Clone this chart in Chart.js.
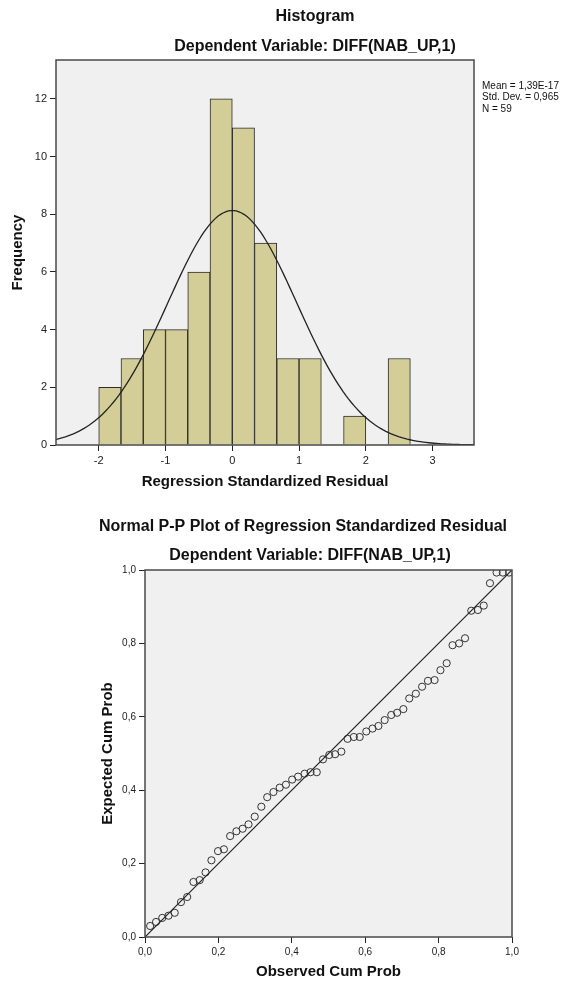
<!DOCTYPE html>
<html>
<head>
<meta charset="utf-8">
<script src="https://cdn.jsdelivr.net/npm/chart.js@4"></script>
<style>
  html, body { margin: 0; padding: 0; background: #fff; }
  #wrap { position: relative; width: 567px; height: 984px; }
  canvas { position: absolute; left: 0; }
  #hist { top: 0; }
  #pp { top: 495px; }
</style>
</head>
<body>
<div id="wrap">
  <canvas id="hist" width="567" height="495"></canvas>
  <canvas id="pp" width="567" height="489"></canvas>
</div>
<script>
// histogram bins (left edges, width 1/3) and counts
const binStarts = [-2, -1.6667, -1.3333, -1, -0.6667, -0.3333, 0, 0.3333, 0.6667, 1, 1.3333, 1.6667, 2, 2.3333];
const binCounts = [2, 3, 4, 4, 6, 12, 11, 7, 3, 3, 0, 1, 0, 3];
const binWidth = 1 / 3;
const histXTicks = [-2, -1, 0, 1, 2, 3];
const histYTicks = [0, 2, 4, 6, 8, 10, 12];

// stats shown beside the histogram
const meanVal = 1.39e-17;
const sdVal = 0.965;
const nVal = 59;
const statLines = ['Mean = 1,39E-17', 'Std. Dev. = 0,965', 'N = 59'];

// P-P plot points
const obsCum = [0.014, 0.030, 0.047, 0.064, 0.081, 0.098, 0.115, 0.132, 0.149, 0.165,
                0.181, 0.199, 0.215, 0.232, 0.249, 0.266, 0.282, 0.299, 0.317, 0.333,
                0.350, 0.367, 0.384, 0.401, 0.417, 0.435, 0.451, 0.468, 0.485, 0.502,
                0.518, 0.535, 0.552, 0.569, 0.585, 0.603, 0.620, 0.636, 0.653, 0.671,
                0.687, 0.704, 0.720, 0.738, 0.755, 0.771, 0.789, 0.805, 0.822, 0.838,
                0.856, 0.872, 0.889, 0.907, 0.923, 0.940, 0.958, 0.975, 0.992];
const expCum = [0.030, 0.041, 0.052, 0.058, 0.066, 0.095, 0.109, 0.150, 0.155, 0.176,
                0.209, 0.234, 0.239, 0.275, 0.288, 0.295, 0.307, 0.328, 0.355, 0.381,
                0.395, 0.407, 0.415, 0.429, 0.437, 0.445, 0.449, 0.449, 0.484, 0.496,
                0.498, 0.505, 0.540, 0.545, 0.545, 0.560, 0.568, 0.575, 0.591, 0.605,
                0.611, 0.621, 0.650, 0.663, 0.682, 0.698, 0.700, 0.727, 0.746, 0.795,
                0.800, 0.814, 0.889, 0.891, 0.903, 0.964, 0.993, 0.993, 0.993];
const ppTicks = [0, 0.2, 0.4, 0.6, 0.8, 1.0];

Chart.defaults.font.family = '"Liberation Sans", Arial, sans-serif';
Chart.defaults.color = '#222';
Chart.defaults.animation = false;

const frameColor = '#4a4a4a';
const plotBg = '#F0F0F0';

// background + frame around the plot area, plus free text
function panelPlugin(titles, extra) {
  return {
    id: 'panel',
    beforeDraw(chart) {
      const { ctx, chartArea: a } = chart;
      ctx.save();
      ctx.fillStyle = plotBg;
      ctx.fillRect(a.left, a.top, a.right - a.left, a.bottom - a.top);
      ctx.restore();
    },
    afterDraw(chart) {
      const { ctx, chartArea: a } = chart;
      ctx.save();
      ctx.strokeStyle = frameColor;
      ctx.lineWidth = 1.5;
      ctx.strokeRect(a.left, a.top, a.right - a.left, a.bottom - a.top);
      ctx.fillStyle = '#111';
      ctx.textAlign = 'center';
      ctx.textBaseline = 'middle';
      ctx.font = 'bold 16px "Liberation Sans", Arial, sans-serif';
      titles.forEach(t => ctx.fillText(t.text, t.x, t.y));
      if (extra) extra(ctx, a);
      ctx.restore();
    }
  };
}

function tickOpts(fmt, size) {
  return {
    autoSkip: false,
    font: { size: size },
    color: '#222',
    padding: 3,
    maxRotation: 0,
    callback: v => fmt(v)
  };
}

const tickGrid = { offset: false, drawOnChartArea: false, drawTicks: true, tickLength: 6, color: '#222', lineWidth: 1 };

// ---------- histogram ----------
const histData = binStarts.map((s, i) => ({ x: s + binWidth / 2, y: binCounts[i] }));
const curve = [];
for (let x = -2.7; x <= 3.7; x += 0.04) {
  const z = (x - meanVal) / sdVal;
  curve.push({ x: x, y: nVal * binWidth * Math.exp(-z * z / 2) / (sdVal * Math.sqrt(2 * Math.PI)) });
}

new Chart(document.getElementById('hist'), {
  type: 'bar',
  data: {
    datasets: [
      {
        type: 'line',
        data: curve,
        borderColor: '#222',
        borderWidth: 1.3,
        pointRadius: 0,
        tension: 0,
        fill: false
      },
      {
        type: 'bar',
        data: histData,
        backgroundColor: '#D3CE97',
        borderColor: '#2b2b2b',
        borderWidth: binCounts.map(c => (c > 0 ? 1 : 0)),
        borderSkipped: 'start',
        barPercentage: 1,
        categoryPercentage: 1
      }
    ]
  },
  options: {
    responsive: false,
    layout: { padding: { top: 60, right: 93, left: 0, bottom: 0 } },
    plugins: { legend: { display: false }, tooltip: { enabled: false } },
    scales: {
      x: {
        type: 'linear',
        offset: false,
        min: -2.64,
        max: 3.62,
        afterFit: s => { s.height = 50; },
        afterBuildTicks: s => { s.ticks = histXTicks.map(v => ({ value: v })); },
        ticks: tickOpts(v => String(v), 11),
        grid: tickGrid,
        border: { display: false },
        title: {
          display: true,
          text: 'Regression Standardized Residual',
          font: { size: 15, weight: 'bold' },
          color: '#111',
          padding: { top: 4, bottom: 4 }
        }
      },
      y: {
        min: 0,
        max: 13.35,
        afterFit: s => { s.width = 56; },
        afterBuildTicks: s => { s.ticks = histYTicks.map(v => ({ value: v })); },
        ticks: tickOpts(v => String(v), 11),
        grid: tickGrid,
        border: { display: false },
        title: {
          display: true,
          text: 'Frequency',
          font: { size: 15, weight: 'bold' },
          color: '#111',
          padding: { top: 9, bottom: 4 }
        }
      }
    }
  },
  plugins: [panelPlugin(
    [{ text: 'Histogram', x: 315, y: 17 }, { text: 'Dependent Variable: DIFF(NAB_UP,1)', x: 315, y: 47 }],
    (ctx, a) => {
      ctx.textAlign = 'left';
      ctx.font = '10px "Liberation Sans", Arial, sans-serif';
      statLines.forEach((t, i) => ctx.fillText(t, a.right + 8, 86 + i * 11.5));
    }
  )]
});

// ---------- P-P plot ----------
const ppPoints = obsCum.map((x, i) => ({ x: x, y: expCum[i] }));
const fmtComma = v => v.toFixed(1).replace('.', ',');

new Chart(document.getElementById('pp'), {
  type: 'scatter',
  data: {
    datasets: [
      {
        data: [{ x: 0, y: 0 }, { x: 1, y: 1 }],
        showLine: true,
        borderColor: '#222',
        borderWidth: 1.2,
        pointRadius: 0
      },
      {
        data: ppPoints,
        pointRadius: 3.6,
        pointBorderWidth: 1,
        pointBorderColor: '#333',
        pointBackgroundColor: 'rgba(0,0,0,0)'
      }
    ]
  },
  options: {
    responsive: false,
    layout: { padding: { top: 75, right: 55, left: 90, bottom: 0 } },
    plugins: { legend: { display: false }, tooltip: { enabled: false } },
    scales: {
      x: {
        type: 'linear',
        min: 0,
        max: 1,
        afterFit: s => { s.height = 47; },
        afterBuildTicks: s => { s.ticks = ppTicks.map(v => ({ value: v })); },
        ticks: tickOpts(fmtComma, 10),
        grid: tickGrid,
        border: { display: false },
        title: {
          display: true,
          text: 'Observed Cum Prob',
          font: { size: 15, weight: 'bold' },
          color: '#111',
          padding: { top: 4, bottom: 3 }
        }
      },
      y: {
        type: 'linear',
        min: 0,
        max: 1,
        afterFit: s => { s.width = 55; },
        afterBuildTicks: s => { s.ticks = ppTicks.map(v => ({ value: v })); },
        ticks: tickOpts(fmtComma, 10),
        grid: tickGrid,
        border: { display: false },
        title: {
          display: true,
          text: 'Expected Cum Prob',
          font: { size: 15, weight: 'bold' },
          color: '#111',
          padding: { top: 9, bottom: 4 }
        }
      }
    }
  },
  plugins: [panelPlugin(
    [{ text: 'Normal P-P Plot of Regression Standardized Residual', x: 303, y: 32 },
     { text: 'Dependent Variable: DIFF(NAB_UP,1)', x: 310, y: 61 }],
    null
  )]
});
</script>
</body>
</html>
